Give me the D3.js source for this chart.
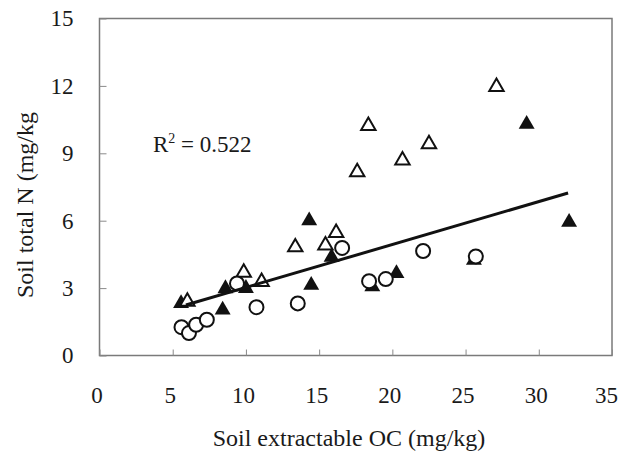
<!DOCTYPE html>
<html>
<head>
<meta charset="utf-8">
<script src="https://cdn.jsdelivr.net/npm/d3@7"></script>
<style>
  html, body { margin: 0; padding: 0; background: #fff; }
  svg text { font-family: "Liberation Serif", "Times New Roman", serif; fill: #1a1a1a; }
</style>
</head>
<body>
<div id="chart"></div>
<script>

// filled triangles
var filledTriX = [5.57, 8.6, 8.41, 10.0, 14.32, 14.46, 15.85, 18.63, 20.28, 25.57, 29.17, 32.07];
var filledTriY = [2.32, 2.98, 2.03, 2.99, 6.0, 3.13, 4.38, 3.06, 3.65, 4.24, 10.3, 5.93];

// open triangles
var openTriX = [6.0, 9.85, 11.07, 13.37, 15.43, 16.16, 17.6, 18.36, 20.69, 22.5, 27.11];
var openTriY = [2.4, 3.69, 3.28, 4.82, 4.9, 5.46, 8.16, 10.22, 8.69, 9.41, 11.96];

// open circles
var circleX = [5.6, 6.11, 6.6, 7.33, 9.39, 10.72, 13.54, 16.57, 18.41, 19.55, 22.1, 25.7];
var circleY = [1.26, 1.0, 1.37, 1.59, 3.21, 2.15, 2.32, 4.79, 3.31, 3.4, 4.65, 4.41];

// regression line y = a + b*x over the data extent
var fitA = 1.12, fitB = 0.191;
var fitRange = [5.9, 32.0];

var xTicks = [0, 5, 10, 15, 20, 25, 30, 35];
var yTicks = [0, 3, 6, 9, 12, 15];

var W = 619, H = 452;
var serif = '"Liberation Serif", "Times New Roman", serif';

var svg = d3.select("#chart").append("svg")
  .attr("width", W).attr("height", H);

var x = d3.scaleLinear().domain([0, 35]).range([99.5, 612]);
var y = d3.scaleLinear().domain([0, 15]).range([355.5, 18.5]);

function zip(xs, ys){
  return xs.map(function(v, i){ return [v, ys[i]]; });
}

// frame
svg.append("rect")
  .attr("x", x(0)).attr("y", y(15))
  .attr("width", x(35) - x(0)).attr("height", y(0) - y(15))
  .attr("fill", "none")
  .attr("stroke", "#7a7a7a")
  .attr("stroke-width", 1.5);

// x axis
var gx = svg.append("g")
  .attr("transform", "translate(0," + y(0) + ")")
  .call(d3.axisBottom(x).tickValues(xTicks).tickSizeInner(-6).tickSizeOuter(0).tickPadding(31));
gx.attr("font-family", serif);
gx.select(".domain").remove();
gx.selectAll("line").attr("stroke", "#8a8a8a");
gx.selectAll("text")
  .style("font-family", serif)
  .style("font-size", "23px")
  .attr("fill", "#1a1a1a")
  .attr("dx", function(d){ return d === 35 ? -6 : -3; });

// y axis
var gy = svg.append("g")
  .attr("transform", "translate(" + x(0) + ",0)")
  .call(d3.axisLeft(y).tickValues(yTicks).tickSizeInner(-7).tickSizeOuter(0).tickPadding(26));
gy.attr("font-family", serif);
gy.select(".domain").remove();
gy.selectAll("line").attr("stroke", "#8a8a8a");
gy.selectAll("text")
  .style("font-family", serif)
  .style("font-size", "23px")
  .attr("fill", "#1a1a1a");

// axis titles
svg.append("text")
  .attr("x", 349).attr("y", 446)
  .attr("text-anchor", "middle")
  .style("font-size", "24px")
  .text("Soil extractable OC (mg/kg)");

svg.append("text")
  .attr("transform", "translate(33,205) rotate(-90)")
  .attr("text-anchor", "middle")
  .style("font-size", "24px")
  .text("Soil total N (mg/kg");

// markers
var tri = d3.symbol().type(d3.symbolTriangle);

svg.append("g").selectAll("path.ftri")
  .data(zip(filledTriX, filledTriY)).enter()
  .append("path")
  .attr("class", "ftri")
  .attr("transform", function(d){ return "translate(" + x(d[0]) + "," + y(d[1]) + ")"; })
  .attr("d", tri.size(110)())
  .attr("fill", "#111");

svg.append("g").selectAll("path.otri")
  .data(zip(openTriX, openTriY)).enter()
  .append("path")
  .attr("class", "otri")
  .attr("transform", function(d){ return "translate(" + x(d[0]) + "," + y(d[1]) + ")"; })
  .attr("d", tri.size(90)())
  .attr("fill", "#fff")
  .attr("stroke", "#111")
  .attr("stroke-width", 2);

svg.append("g").selectAll("circle")
  .data(zip(circleX, circleY)).enter()
  .append("circle")
  .attr("cx", function(d){ return x(d[0]); })
  .attr("cy", function(d){ return y(d[1]); })
  .attr("r", 7)
  .attr("fill", "#fff")
  .attr("stroke", "#111")
  .attr("stroke-width", 2);

// trend line
var line = d3.line()
  .x(function(d){ return x(d); })
  .y(function(d){ return y(fitA + fitB * d); });

svg.append("path")
  .datum(fitRange)
  .attr("d", line)
  .attr("fill", "none")
  .attr("stroke", "#111")
  .attr("stroke-width", 3);

// R squared label
var r2 = svg.append("text")
  .attr("x", 153).attr("y", 152)
  .style("font-size", "23px");
r2.append("tspan").text("R");
r2.append("tspan").attr("dy", -9).style("font-size", "14px").text("2");
r2.append("tspan").attr("dy", 9).text(" = 0.522");

</script>
</body>
</html>
